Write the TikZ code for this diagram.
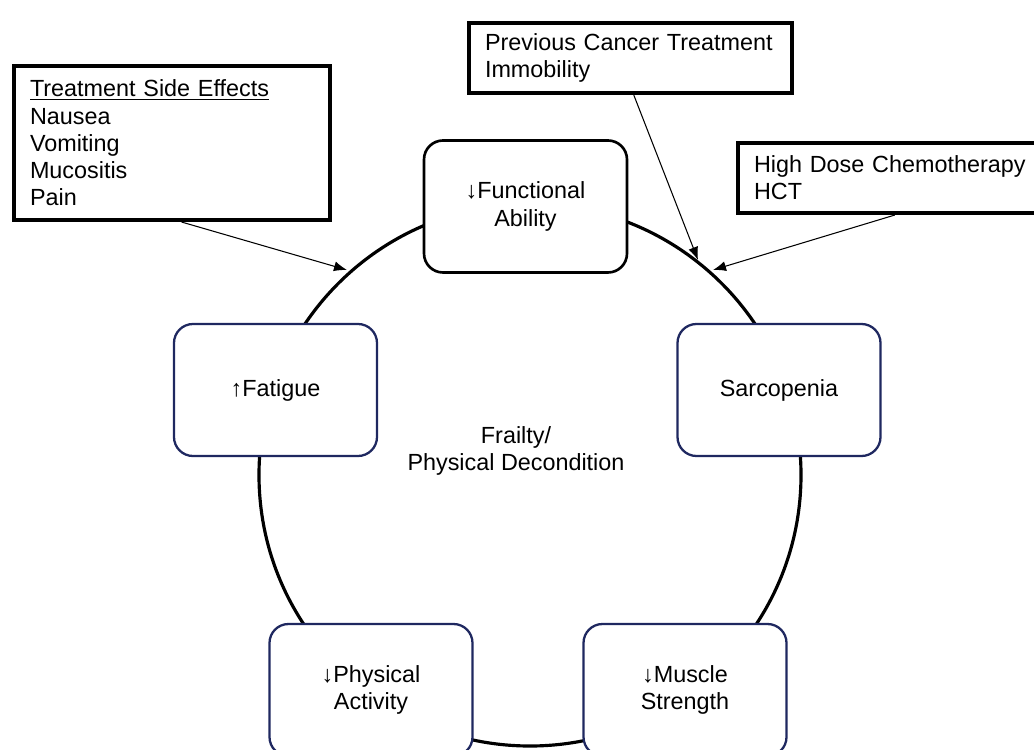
\documentclass[tikz,border=0pt]{standalone}
\usepackage{fontspec}
\setmainfont{Liberation Sans}
\usetikzlibrary{arrows.meta,calc}
\definecolor{boxnavy}{RGB}{31,40,96}

\begin{document}
\begin{tikzpicture}[
  font=\fontsize{13.3}{15.5}\selectfont,
  stage/.style={draw=boxnavy,line width=1.3pt,fill=white,rounded corners=0.38cm,
    minimum width=4.06cm,minimum height=2.64cm,align=center},
  cause/.style={draw,line width=2.3pt,fill=white,anchor=north west,align=left,
    inner xsep=0.32cm,inner ysep=0pt},
  hit/.style={-{Latex[length=0.26cm,width=0.2cm]},line width=0.6pt}
]
\useasboundingbox (-10.6,-5.48) rectangle (10.08,9.5);
\clip (-10.6,-5.48) rectangle (10.08,9.5);
\draw[line width=1.8pt] (0,0) circle(5.42);
\node[stage,draw=black,line width=1.5pt] (func) at (-0.09,5.37) {↓Functional\\Ability};
\node[stage] (fatg) at (-5.09,1.7) {↑Fatigue};
\node[stage] (sarc) at (4.98,1.7) {Sarcopenia};
\node[stage] (phys) at (-3.18,-4.3) {↓Physical\\Activity};
\node[stage] (musc) at (3.1,-4.3) {↓Muscle\\Strength};
\node[align=center] (frail) at (-0.28,0.48) {Frailty/\\Physical Decondition};
\node[cause,text width=5.68cm,minimum height=3.08cm] (side) at (-10.36,8.22)
  {\underline{Treatment Side Effects}\\Nausea\\Vomiting\\Mucositis\\Pain};
\node[cause,text width=5.82cm,minimum height=1.4cm] (prev) at (-1.26,9.08)
  {Previous Cancer Treatment\\Immobility};
\node[cause,text width=5.76cm,minimum height=1.4cm] (chemo) at (4.12,6.68)
  {High Dose Chemotherapy\\HCT};
\coordinate (hit1) at (-3.66,4.1);
\coordinate (hit2) at (3.36,4.3);
\coordinate (hit3) at (3.66,4.1);
\draw[hit] ($(side.south west)!0.53!(side.south east)$) -- (hit1);
\draw[hit] ($(prev.south west)!0.51!(prev.south east)$) -- (hit2);
\draw[hit] ($(chemo.south west)!0.49!(chemo.south east)$) -- (hit3);
\end{tikzpicture}
\end{document}
